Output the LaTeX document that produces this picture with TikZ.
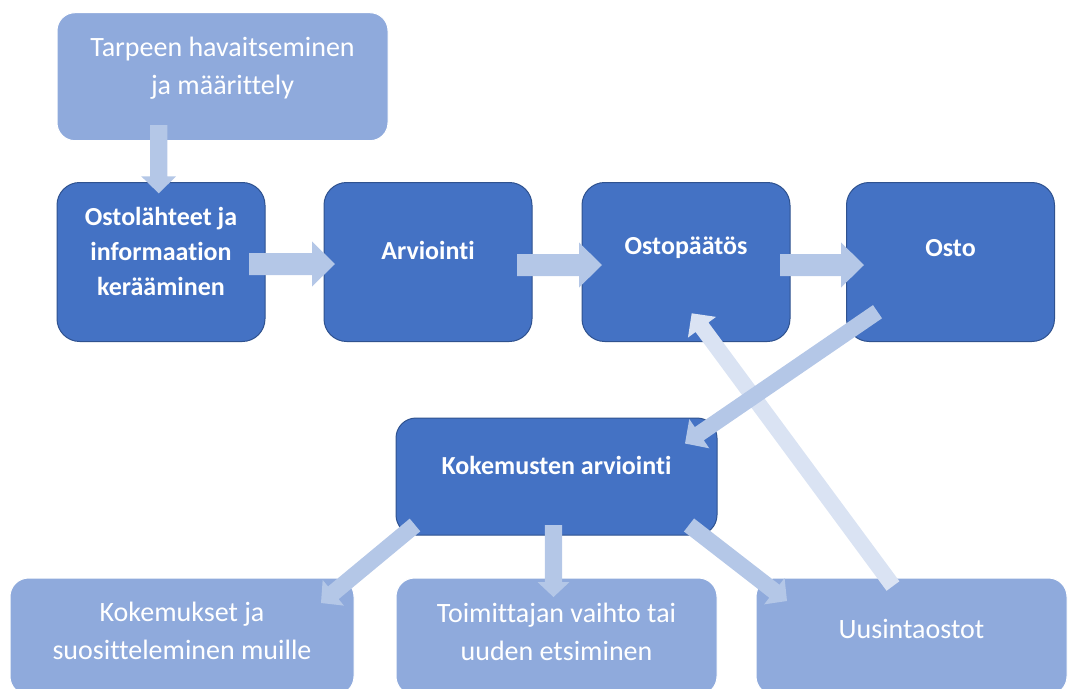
\documentclass[tikz,border=0pt]{standalone}
\usepackage{fontspec}
\setmainfont[Ligatures=NoCommon]{Carlito}
\usetikzlibrary{calc}
\definecolor{dkfill}{HTML}{4472C4}
\definecolor{dkline}{HTML}{2F528F}
\definecolor{ltfill}{HTML}{8FAADC}
\definecolor{arrowmid}{HTML}{B4C7E7}
\definecolor{arrowlt}{HTML}{DAE3F3}
% block arrow: [style]{from}{to}{half shaft}{half head}{head length}
\newcommand\blockarrow[6][]{%
  \coordinate (ba-h) at ($(#3)!#6!(#2)$);
  \fill[#1] ($(#2)!#4!90:(#3)$) -- ($(ba-h)!#4!90:(#3)$) -- ($(ba-h)!#5!90:(#3)$) -- (#3)
    -- ($(ba-h)!#5!-90:(#3)$) -- ($(ba-h)!#4!-90:(#3)$) -- ($(#2)!#4!-90:(#3)$) -- cycle;}
\begin{document}
\begin{tikzpicture}[x=0.75pt,y=-0.75pt,
  darkbox/.style={draw=dkline, fill=dkfill, line width=0.75pt, rounded corners=17pt, inner sep=0pt},
  lightbox/.style={draw=white, fill=ltfill, line width=0.75pt, rounded corners=14pt, inner sep=0pt},
  rowsize/.style={minimum width=156pt, minimum height=119.25pt},
  boldtxt/.style={text=white, align=center, inner sep=0pt, font=\fontsize{19.5pt}{26.25pt}\selectfont\bfseries},
  regtxt/.style={text=white, align=center, inner sep=0pt, font=\fontsize{21pt}{28.5pt}\selectfont},
  midarrow/.style={fill=arrowmid},
  ltarrow/.style={fill=arrowlt}]
\useasboundingbox (0,0) rectangle (1068,689);
\clip (0,0) rectangle (1068,689);

% boxes
\node[lightbox, rounded corners=13.5pt, minimum width=248.25pt, minimum height=96pt] (top) at (222.5,76.7) {};
\node[regtxt] (ttop) at (222.5,68) {Tarpeen havaitseminen\\ja määrittely};

\node[darkbox, rowsize] (b1) at (161,262) {};
\node[darkbox, rowsize] (b2) at (428,262) {};
\node[darkbox, rowsize] (b3) at (686,262) {};
\node[darkbox, rowsize] (b4) at (950.5,262) {};
\node[boldtxt] (tb1) at (161,251) {Ostolähteet ja\\informaation\\kerääminen};
\node[boldtxt] (tb2) at (428,250) {Arviointi};
\node[boldtxt] (tb3) at (686,248) {Ostopäätös};
\node[boldtxt] (tb4) at (950.5,248) {Osto};

\node[darkbox, rounded corners=15pt, minimum width=240.75pt, minimum height=87.75pt] (kok) at (556.5,476.5) {};
\node[boldtxt] (tkok) at (556.5,465) {Kokemusten arviointi};

\node[lightbox, minimum width=258pt, minimum height=87.75pt] (ba) at (182,636.5) {};
\node[lightbox, minimum width=240.75pt, minimum height=87.75pt] (bb) at (556.5,636.5) {};
\node[lightbox, minimum width=233.25pt, minimum height=87.75pt] (bc) at (911.5,636.5) {};
\node[regtxt] (tba) at (182,631) {Kokemukset ja\\suositteleminen muille};
\node[regtxt] (tbb) at (556.5,632) {Toimittajan vaihto tai\\uuden etsiminen};
\node[regtxt] (tbc) at (911.5,628.5) {Uusintaostot};

% arrow end points
\coordinate (a1s) at (158.7,125);   \coordinate (a1e) at (158.7,193.3);
\coordinate (a2s) at (249,264);     \coordinate (a2e) at (335,264);
\coordinate (a3s) at (517,265);     \coordinate (a3e) at (602,265);
\coordinate (a4s) at (780,265);     \coordinate (a4e) at (864,265);
\coordinate (a5s) at (893,586);     \coordinate (a5e) at (691.7,313.3);
\coordinate (a6s) at (877.5,311.7); \coordinate (a6e) at (685,443.5);
\coordinate (a7s) at (415,525);     \coordinate (a7e) at (321,603);
\coordinate (a8s) at (553.5,525);   \coordinate (a8e) at (553.5,597);
\coordinate (a9s) at (689,525);     \coordinate (a9e) at (787,601);

% arrows
\blockarrow[midarrow]{a1s}{a1e}{6.5pt}{13.1pt}{12.75pt}
\blockarrow[midarrow]{a2s}{a2e}{8.25pt}{16.9pt}{17.25pt}
\blockarrow[midarrow]{a3s}{a3e}{8.25pt}{16.9pt}{17.25pt}
\blockarrow[midarrow]{a4s}{a4e}{8.25pt}{16.9pt}{17.25pt}
\blockarrow[ltarrow]{a5s}{a5e}{6pt}{13.1pt}{13pt}
\blockarrow[midarrow]{a6s}{a6e}{6pt}{13.3pt}{13pt}
\blockarrow[midarrow]{a7s}{a7e}{6.2pt}{12.5pt}{12pt}
\blockarrow[midarrow]{a8s}{a8e}{6.4pt}{12pt}{11.25pt}
\blockarrow[midarrow]{a9s}{a9e}{6.2pt}{12.5pt}{12pt}
\end{tikzpicture}
\end{document}
